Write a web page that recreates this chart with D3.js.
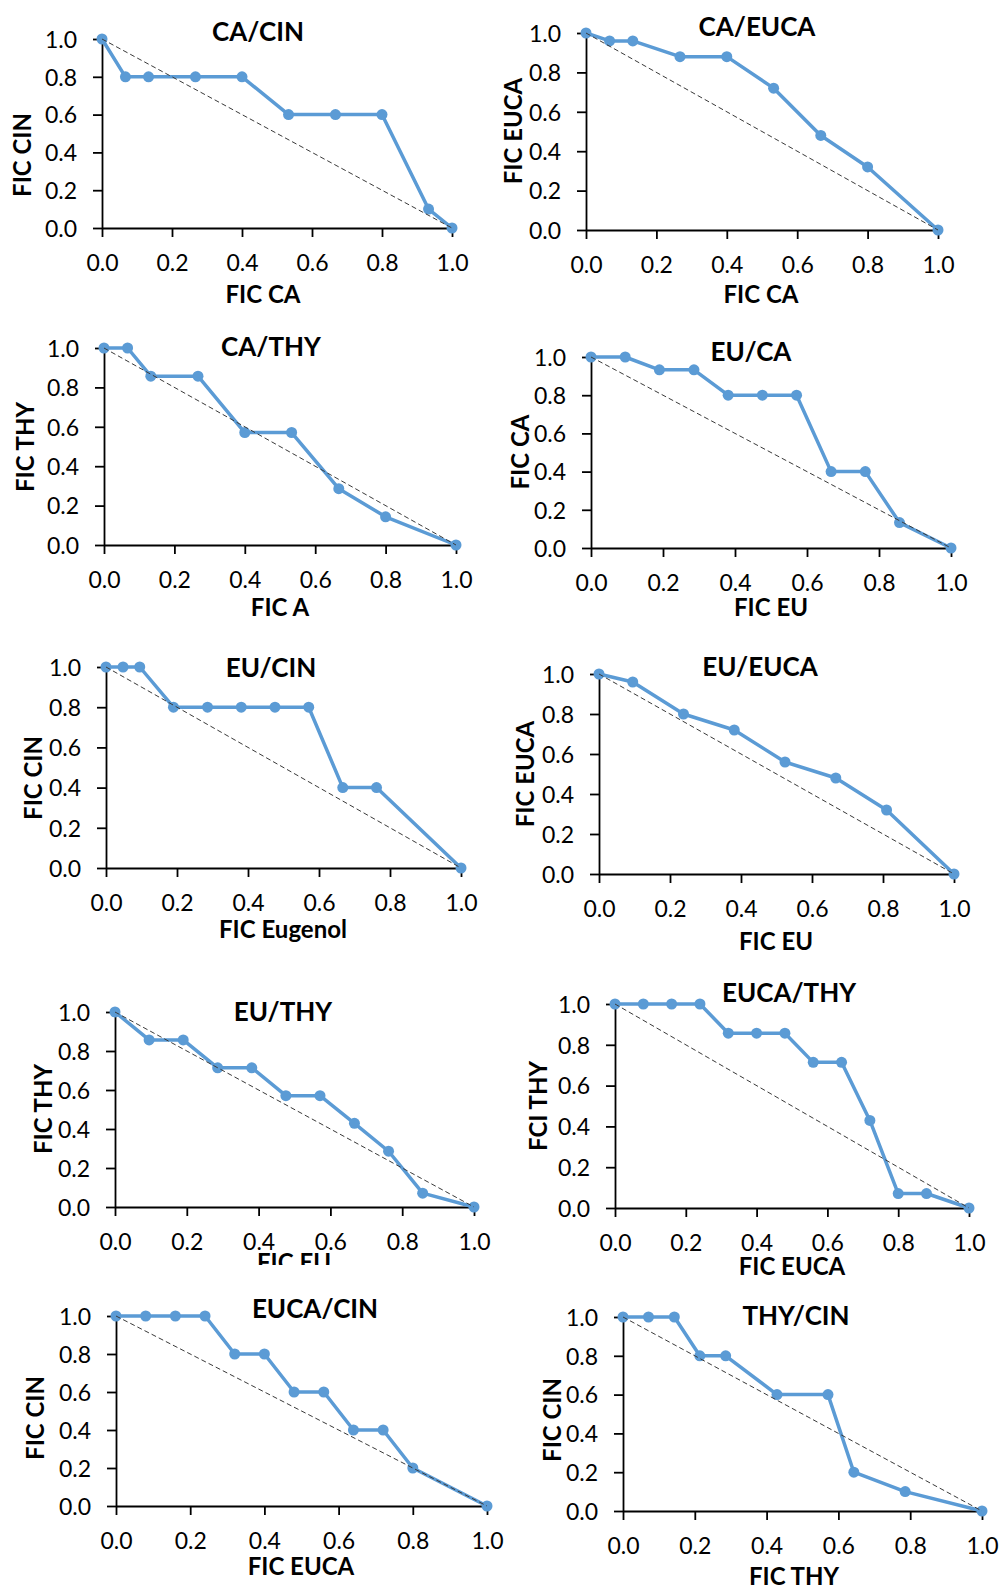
<!DOCTYPE html>
<html lang="en">
<head>
    <meta charset="UTF-8">
    <title>FIC isobolograms</title>
    <script src="https://d3js.org/d3.v7.min.js"></script>
    <style>
        body { margin: 0; background: #fff; }
        .tick text { font: 23px Lato, "Open Sans", sans-serif; fill: #000; }
        .domain, .tick line { stroke: #000; stroke-width: 1.8; }
        .title, .alabel { font-family: Lato, "Open Sans", sans-serif; font-weight: bold; fill: #000; }
        .title { font-size: 26px; }
        .alabel { font-size: 24px; }
        .series { fill: none; stroke: #5b9bd5; stroke-width: 3.5; stroke-linejoin: round; }
        .dot { fill: #5b9bd5; }
        .additive { stroke: #3a3a3a; stroke-width: 1; stroke-dasharray: 5,3; }
    </style>
</head>
<body>
    <svg id="chart" width="1001" height="1587"></svg>
    <script>
        // FIC values
        const caCinX = [0, 0.067, 0.133, 0.267, 0.4, 0.533, 0.667, 0.8, 0.933, 1.0];
        const caCinY = [1.0, 0.8, 0.8, 0.8, 0.8, 0.6, 0.6, 0.6, 0.1, 0];

        const caEucaX = [0, 0.067, 0.133, 0.267, 0.4, 0.533, 0.667, 0.8, 1.0];
        const caEucaY = [1.0, 0.96, 0.96, 0.88, 0.88, 0.72, 0.48, 0.32, 0];

        const caThyX = [0, 0.067, 0.133, 0.267, 0.4, 0.533, 0.667, 0.8, 1.0];
        const caThyY = [1.0, 1.0, 0.857, 0.857, 0.571, 0.571, 0.286, 0.143, 0];

        const euCaX = [0, 0.095, 0.19, 0.286, 0.381, 0.476, 0.571, 0.667, 0.762, 0.857, 1.0];
        const euCaY = [1.0, 1.0, 0.933, 0.933, 0.8, 0.8, 0.8, 0.4, 0.4, 0.133, 0];

        const euCinX = [0, 0.048, 0.095, 0.19, 0.286, 0.381, 0.476, 0.571, 0.667, 0.762, 1.0];
        const euCinY = [1.0, 1.0, 1.0, 0.8, 0.8, 0.8, 0.8, 0.8, 0.4, 0.4, 0];

        const euEucaX = [0, 0.095, 0.238, 0.381, 0.524, 0.667, 0.81, 1.0];
        const euEucaY = [1.0, 0.96, 0.8, 0.72, 0.56, 0.48, 0.32, 0];

        const euThyX = [0, 0.095, 0.19, 0.286, 0.381, 0.476, 0.571, 0.667, 0.762, 0.857, 1.0];
        const euThyY = [1.0, 0.857, 0.857, 0.714, 0.714, 0.571, 0.571, 0.429, 0.286, 0.071, 0];

        const eucaThyX = [0, 0.08, 0.16, 0.24, 0.32, 0.4, 0.48, 0.56, 0.64, 0.72, 0.8, 0.88, 1.0];
        const eucaThyY = [1.0, 1.0, 1.0, 1.0, 0.857, 0.857, 0.857, 0.714, 0.714, 0.429, 0.071, 0.071, 0];

        const eucaCinX = [0, 0.08, 0.16, 0.24, 0.32, 0.4, 0.48, 0.56, 0.64, 0.72, 0.8, 1.0];
        const eucaCinY = [1.0, 1.0, 1.0, 1.0, 0.8, 0.8, 0.6, 0.6, 0.4, 0.4, 0.2, 0];

        const thyCinX = [0, 0.071, 0.143, 0.214, 0.286, 0.429, 0.571, 0.643, 0.786, 1.0];
        const thyCinY = [1.0, 1.0, 1.0, 0.8, 0.8, 0.6, 0.6, 0.2, 0.1, 0];

        const tickValues = [0, 0.2, 0.4, 0.6, 0.8, 1.0];

        // panel layout: plot box, title / axis label centres
        const panels = [
            {title: "CA/CIN", xl: "FIC CA", yl: "FIC CIN", xs: caCinX, ys: caCinY,
             x0: 102, x1: 452, yT: 39, yB: 228, t: [258, 32], xlab: [263, 294], ylab: [22, 155]},
            {title: "CA/EUCA", xl: "FIC CA", yl: "FIC EUCA", xs: caEucaX, ys: caEucaY,
             x0: 586, x1: 938, yT: 33, yB: 230, t: [757, 27], xlab: [761, 294], ylab: [513, 131]},
            {title: "CA/THY", xl: "FIC A", yl: "FIC THY", xs: caThyX, ys: caThyY,
             x0: 104, x1: 456, yT: 348, yB: 545, t: [271, 347], xlab: [280, 607], ylab: [25, 447]},
            {title: "EU/CA", xl: "FIC EU", yl: "FIC CA", xs: euCaX, ys: euCaY,
             x0: 591, x1: 951, yT: 357, yB: 548, t: [751, 352], xlab: [771, 607], ylab: [520, 452]},
            {title: "EU/CIN", xl: "FIC Eugenol", yl: "FIC CIN", xs: euCinX, ys: euCinY,
             x0: 106, x1: 461, yT: 667, yB: 868, t: [271, 668], xlab: [283, 929], ylab: [33, 778]},
            {title: "EU/EUCA", xl: "FIC EU", yl: "FIC EUCA", xs: euEucaX, ys: euEucaY,
             x0: 599, x1: 954, yT: 674, yB: 874, t: [760, 667], xlab: [776, 941], ylab: [525, 774]},
            {title: "EU/THY", xl: "FIC EU", yl: "FIC THY", xs: euThyX, ys: euThyY,
             x0: 115, x1: 474, yT: 1012, yB: 1207, t: [283, 1012], xlab: [294, 1262], ylab: [43, 1109], clip: 1265},
            {title: "EUCA/THY", xl: "FIC EUCA", yl: "FCI THY", xs: eucaThyX, ys: eucaThyY,
             x0: 615, x1: 969, yT: 1004, yB: 1208, t: [789, 993], xlab: [792, 1266], ylab: [538, 1106]},
            {title: "EUCA/CIN", xl: "FIC EUCA", yl: "FIC CIN", xs: eucaCinX, ys: eucaCinY,
             x0: 116, x1: 487, yT: 1316, yB: 1506, t: [315, 1309], xlab: [301, 1566], ylab: [35, 1418]},
            {title: "THY/CIN", xl: "FIC THY", yl: "FIC CIN", xs: thyCinX, ys: thyCinY,
             x0: 623, x1: 982, yT: 1317, yB: 1511, t: [796, 1316], xlab: [794, 1576], ylab: [552, 1420]}
        ];

        const svg = d3.select("#chart");
        svg.append("rect").attr("width", 1001).attr("height", 1587).attr("fill", "#fff");

        const fmt = d3.format(".1f");
        const cap = 0.36; // half cap height in em, used to centre text

        panels.forEach((p, i) => {
            const x = d3.scaleLinear().domain([0, 1]).range([p.x0, p.x1]);
            const y = d3.scaleLinear().domain([0, 1]).range([p.yB, p.yT]);
            const g = svg.append("g");

            // title and axis labels
            g.append("text").attr("class", "title")
                .attr("x", p.t[0]).attr("y", p.t[1] + cap * 26)
                .attr("text-anchor", "middle").text(p.title);

            const xl = g.append("text").attr("class", "alabel")
                .attr("x", p.xlab[0]).attr("y", p.xlab[1] + cap * 24)
                .attr("text-anchor", "middle").text(p.xl);
            if (p.clip) {
                const id = "clip" + i;
                svg.append("clipPath").attr("id", id)
                    .append("rect").attr("x", 0).attr("y", 0).attr("width", 1001).attr("height", p.clip);
                xl.attr("clip-path", `url(#${id})`);
            }

            g.append("text").attr("class", "alabel")
                .attr("transform", `translate(${p.ylab[0] + cap * 24},${p.ylab[1]}) rotate(-90)`)
                .attr("text-anchor", "middle").text(p.yl);

            // axes
            g.append("g")
                .attr("transform", `translate(0,${p.yB})`)
                .call(d3.axisBottom(x).tickValues(tickValues).tickFormat(fmt).tickSize(9).tickSizeOuter(0))
                .call(a => a.selectAll(".tick text").attr("y", 35 + cap * 23).attr("dy", null));

            g.append("g")
                .attr("transform", `translate(${p.x0},0)`)
                .call(d3.axisLeft(y).tickValues(tickValues).tickFormat(fmt).tickSize(9).tickSizeOuter(0))
                .call(a => a.selectAll(".tick text").attr("x", -25).attr("dy", cap + "em"));

            // measured combination
            const pts = p.xs.map((v, k) => [v, p.ys[k]]);
            g.append("path").attr("class", "series")
                .attr("d", d3.line().x(d => x(d[0])).y(d => y(d[1]))(pts));
            g.selectAll(".dot").data(pts).join("circle")
                .attr("class", "dot")
                .attr("cx", d => x(d[0])).attr("cy", d => y(d[1])).attr("r", 5.5);

            // additivity line
            g.append("line").attr("class", "additive")
                .attr("x1", x(0)).attr("y1", y(1)).attr("x2", x(1)).attr("y2", y(0));
        });
    </script>
</body>
</html>
